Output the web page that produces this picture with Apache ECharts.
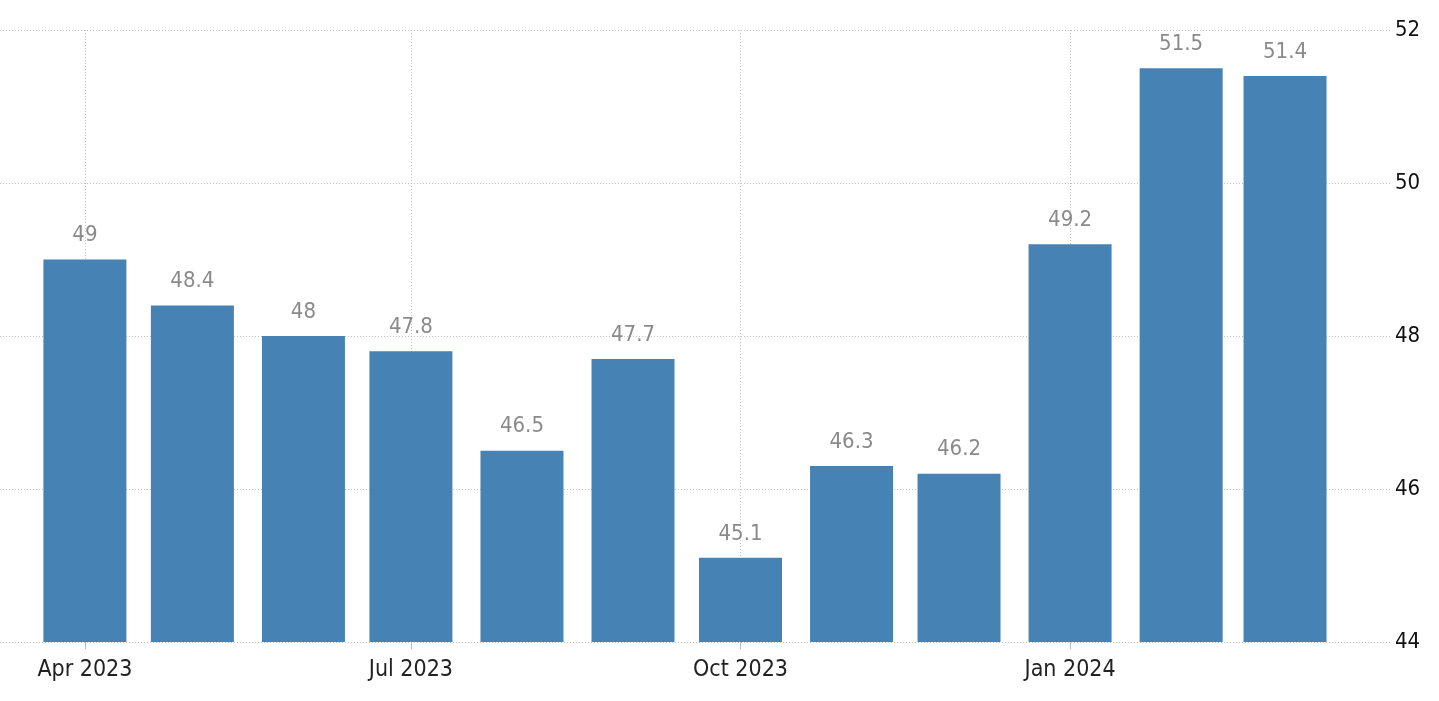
<!DOCTYPE html>
<html>
<head>
<meta charset="utf-8">
<script src="https://cdn.jsdelivr.net/npm/echarts@6/dist/echarts.min.js"></script>
<style>
html,body{margin:0;padding:0;background:#fff;}
#main{width:1439px;height:701px;}
</style>
</head>
<body>
<div id="main"></div>
<script>
const months = ['2023-04-01','2023-05-01','2023-06-01','2023-07-01','2023-08-01','2023-09-01','2023-10-01','2023-11-01','2023-12-01','2024-01-01','2024-02-01','2024-03-01'];
const values = [49, 48.4, 48, 47.8, 46.5, 47.7, 45.1, 46.3, 46.2, 49.2, 51.5, 51.4];
const xTickDates = ['2023-04-01','2023-07-01','2023-10-01','2024-01-01'];
const monthNames = ['Jan','Feb','Mar','Apr','May','Jun','Jul','Aug','Sep','Oct','Nov','Dec'];
const yMin = 44, yMax = 52, yStep = 2;

const FONT = '"DejaVu Sans Condensed", "DejaVu Sans", sans-serif';
const DAY = 86400000;
const ts = s => new Date(s + 'T00:00:00').getTime();

const chart = echarts.init(document.getElementById('main'));
chart.setOption({
  animation: false,
  backgroundColor: '#fff',
  grid: {left: 0, right: 49, top: 30, bottom: 59, containLabel: false},
  xAxis: {
    type: 'value',
    min: ts(months[0]) - 23.7 * DAY,
    max: ts(months[0]) + 364.3 * DAY,
    axisLine: {show: false},
    axisTick: {show: true, length: 7, lineStyle: {color: '#bbb'}, customValues: xTickDates.map(ts)},
    axisLabel: {
      customValues: xTickDates.map(ts),
      fontFamily: FONT, fontSize: 23, color: '#222', margin: 17,
      formatter: v => { const d = new Date(v); return monthNames[d.getMonth()] + ' ' + d.getFullYear(); }
    },
    splitLine: {show: true, lineStyle: {color: '#c4c4c4', type: [1, 2], width: 1}}
  },
  yAxis: {
    type: 'value', position: 'right', min: yMin, max: yMax, interval: yStep,
    axisLine: {show: false}, axisTick: {show: false},
    axisLabel: {fontFamily: FONT, fontSize: 22, color: '#111', margin: 5, padding: [6, 0, 0, 0]},
    splitLine: {show: true, lineStyle: {color: '#c4c4c4', type: [1, 2], width: 1}}
  },
  series: [{
    type: 'bar',
    barWidth: 83,
    itemStyle: {color: '#4682B4'},
    label: {show: true, position: 'top', distance: 13, fontFamily: FONT, fontSize: 22, color: '#8a8a8a'},
    data: months.map((m, i) => [ts(m), values[i]])
  }]
});
</script>
</body>
</html>
